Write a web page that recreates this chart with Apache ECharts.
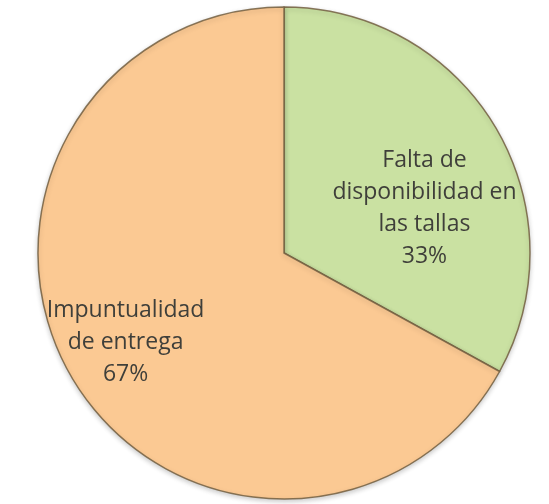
<!DOCTYPE html>
<html>
<head>
<meta charset="utf-8">
<script src="https://cdn.jsdelivr.net/npm/echarts@6/dist/echarts.min.js"></script>
<style>
html,body{margin:0;padding:0;background:#fff;}
#chart{width:549px;height:504px;}
</style>
</head>
<body>
<div id="chart"></div>
<script>
const categories = ['Falta de\ndisponibilidad en\nlas tallas', 'Impuntualidad\nde entrega'];
const values = [33, 67];
const colors = ['#cae1a2', '#fbc993'];
const labelShift = [[32, 20], [-50, 25]];

const chart = echarts.init(document.getElementById('chart'));
chart.setOption({
  animation: false,
  backgroundColor: '#ffffff',
  series: [{
    type: 'pie',
    center: [284, 253],
    radius: 246,
    startAngle: 90,
    clockwise: true,
    data: categories.map((c, i) => ({
      name: c,
      value: values[i],
      itemStyle: { color: colors[i] }
    })),
    itemStyle: {
      borderColor: 'rgba(115,95,65,0.85)',
      borderWidth: 1.5,
      shadowColor: 'rgba(0,0,0,0.2)',
      shadowBlur: 5,
      shadowOffsetY: 2
    },
    label: {
      show: true,
      position: 'inside',
      formatter: '{b}\n{d}%',
      fontFamily: 'Open Sans',
      fontSize: 23,
      lineHeight: 32,
      color: '#3f3f3a',
      align: 'center'
    },
    labelLayout: function (p) {
      return { dx: labelShift[p.dataIndex][0], dy: labelShift[p.dataIndex][1] };
    },
    labelLine: { show: false },
    emphasis: { disabled: true }
  }]
});
</script>
</body>
</html>
